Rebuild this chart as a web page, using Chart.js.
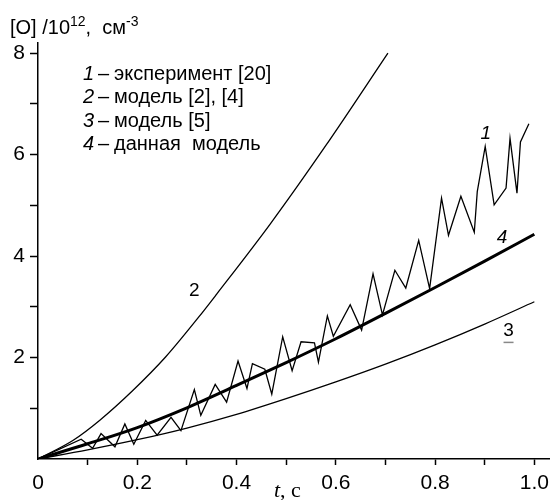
<!DOCTYPE html>
<html>
<head>
<meta charset="utf-8">
<script src="https://cdn.jsdelivr.net/npm/chart.js@4.4.1/dist/chart.umd.min.js"></script>
<style>
  body { margin: 0; background: #fff; }
</style>
</head>
<body>
<canvas id="chart" width="555" height="500"></canvas>
<script>
const expT = [0, 0.087, 0.11, 0.127, 0.155, 0.175, 0.193, 0.217, 0.24, 0.268, 0.288, 0.315, 0.328, 0.357, 0.38,
  0.403, 0.421, 0.432, 0.457, 0.471, 0.493, 0.512, 0.53, 0.557, 0.565, 0.583, 0.595, 0.629, 0.652, 0.675,
  0.694, 0.719, 0.741, 0.767, 0.789, 0.813, 0.827, 0.852, 0.879, 0.885, 0.901, 0.919, 0.943, 0.951, 0.965,
  0.972, 0.989];
const expO = [0, 0.39, 0.21, 0.50, 0.24, 0.69, 0.29, 0.76, 0.47, 0.82, 0.56, 1.37, 0.86, 1.47, 1.12,
  1.93, 1.39, 1.88, 1.77, 1.28, 2.41, 1.74, 2.31, 2.29, 1.91, 2.82, 2.42, 3.04, 2.54, 3.65,
  2.84, 3.72, 3.37, 4.31, 3.36, 5.14, 4.41, 5.18, 4.47, 5.27, 6.16, 5.01, 5.34, 6.32, 5.24,
  6.25, 6.61];

// curve 2 - model [2], [4]
const m24T = [0, 0.071, 0.124, 0.191, 0.257, 0.324, 0.36, 0.467, 0.58, 0.705];
const m24O = [0, 0.37, 0.76, 1.35, 2.01, 2.80, 3.25, 4.62, 6.18, 8.0];

// curve 3 - model [5]
const m5T = [0, 0.1, 0.2, 0.3, 0.4, 0.5, 0.6, 0.7, 0.8, 0.9, 1.0];
const m5O = [0, 0.18, 0.38, 0.61, 0.88, 1.19, 1.52, 1.87, 2.25, 2.66, 3.10];

// curve 4 - this model
const thisT = [0, 0.1, 0.2, 0.3, 0.4, 0.5, 0.6, 0.7, 0.8, 0.9, 1.0];
const thisO = [0, 0.30, 0.62, 1.01, 1.45, 1.90, 2.37, 2.87, 3.38, 3.90, 4.43];

// axis ticks
const xTicks = [0, 0.1, 0.2, 0.3, 0.4, 0.5, 0.6, 0.7, 0.8, 0.9, 1.0];
const xTickLabels = ['0', '', '0.2', '', '0.4', '', '0.6', '', '0.8', '', '1.0'];
const yTicks = [1, 2, 3, 4, 5, 6, 7, 8];
const yTickLabels = ['', '2', '', '4', '', '6', '', '8'];

const legendRows = [
  ['1', 'эксперимент [20]'],
  ['2', 'модель [2], [4]'],
  ['3', 'модель [5]'],
  ['4', 'данная  модель'],
];

const SANS = '"Liberation Sans", Arial, sans-serif';
const SERIF = '"Liberation Serif", "Times New Roman", serif';

const toPoints = (ts, vs) => ts.map((t, i) => ({ x: t, y: vs[i] }));

// Draws the axis title, the legend text and the curve numbers
const textPlugin = {
  id: 'texts',
  afterDraw(chart) {
    const ctx = chart.ctx;
    const xs = chart.scales.x;
    const ys = chart.scales.y;
    ctx.save();
    ctx.fillStyle = '#000';
    ctx.textBaseline = 'alphabetic';
    ctx.textAlign = 'left';

    // y axis title: [O] /10^12, см^-3
    let x = 10;
    const put = (txt, font, y) => {
      ctx.font = font;
      ctx.fillText(txt, x, y);
      x += ctx.measureText(txt).width;
    };
    put('[O] /10', '20px ' + SANS, 34);
    put('12', '14px ' + SANS, 26);
    put(',  см', '20px ' + SANS, 34);
    put('-3', '14px ' + SANS, 26);

    // x axis title: t, с
    x = 274;
    put('t', 'italic 22px ' + SERIF, 497);
    put(', с', '22px ' + SERIF, 497);

    // legend
    legendRows.forEach((row, i) => {
      const y = 80 + i * 23.3;
      ctx.font = 'italic 20px ' + SANS;
      ctx.fillText(row[0], 83, y);
      ctx.font = '20px ' + SANS;
      ctx.fillText('–', 98, y);
      ctx.fillText(row[1], 114, y);
    });

    // curve numbers
    ctx.textAlign = 'center';
    ctx.textBaseline = 'middle';
    const label = (txt, t, v, italic) => {
      ctx.font = (italic ? 'italic ' : '') + '19px ' + SANS;
      ctx.fillText(txt, xs.getPixelForValue(t), ys.getPixelForValue(v));
    };
    label('1', 0.902, 6.41, true);
    label('2', 0.315, 3.31, false);
    label('3', 0.948, 2.53, false);
    label('4', 0.935, 4.37, true);
    // small underline under the 3
    const ux = xs.getPixelForValue(0.948);
    const uy = ys.getPixelForValue(2.53) + 11;
    ctx.fillStyle = '#888';
    ctx.fillRect(ux - 5, uy, 10, 1.5);
    ctx.restore();
  }
};

const data = {
  datasets: [
    {
      label: 'эксперимент [20]',
      data: toPoints(expT, expO),
      borderColor: '#000',
      borderWidth: 1.3,
      tension: 0,
    },
    {
      label: 'модель [2], [4]',
      data: toPoints(m24T, m24O),
      borderColor: '#000',
      borderWidth: 1.3,
      cubicInterpolationMode: 'monotone',
    },
    {
      label: 'модель [5]',
      data: toPoints(m5T, m5O),
      borderColor: '#000',
      borderWidth: 1.3,
      cubicInterpolationMode: 'monotone',
    },
    {
      label: 'данная модель',
      data: toPoints(thisT, thisO),
      borderColor: '#000',
      borderWidth: 3,
      cubicInterpolationMode: 'monotone',
    },
  ]
};

const config = {
  type: 'line',
  data: data,
  options: {
    responsive: false,
    animation: false,
    devicePixelRatio: 1,
    elements: { point: { radius: 0 } },
    layout: { padding: { top: 43, right: 2, left: 0, bottom: 0 } },
    plugins: {
      legend: { display: false },
      tooltip: { enabled: false },
    },
    scales: {
      x: {
        type: 'linear',
        min: 0,
        max: 1.03,
        afterBuildTicks: (scale) => { scale.ticks = xTicks.map(v => ({ value: v })); },
        afterFit: (scale) => { scale.height = 41; },
        border: { display: true, color: '#000', width: 1.5 },
        grid: {
          drawOnChartArea: false,
          drawTicks: true,
          tickLength: 6,
          tickWidth: 1.5,
          tickColor: (ctx) => (ctx.tick && ctx.tick.value === 0 ? 'rgba(0,0,0,0)' : '#000'),
        },
        ticks: {
          autoSkip: false,
          maxRotation: 0,
          padding: 6,
          color: '#000',
          font: { family: SANS, size: 21 },
          callback: (value, index) => xTickLabels[index],
        },
      },
      y: {
        type: 'linear',
        min: 0,
        max: 8.2,
        afterBuildTicks: (scale) => { scale.ticks = yTicks.map(v => ({ value: v })); },
        afterFit: (scale) => { scale.width = 38; },
        border: { display: true, color: '#000', width: 1.5 },
        grid: {
          drawOnChartArea: false,
          drawTicks: true,
          tickLength: 8,
          tickWidth: 1.5,
          tickColor: '#000',
        },
        ticks: {
          autoSkip: false,
          padding: 5,
          color: '#000',
          font: { family: SANS, size: 21 },
          callback: (value, index) => yTickLabels[index],
        },
      },
    },
  },
  plugins: [textPlugin],
};

new Chart(document.getElementById('chart'), config);
</script>
</body>
</html>
